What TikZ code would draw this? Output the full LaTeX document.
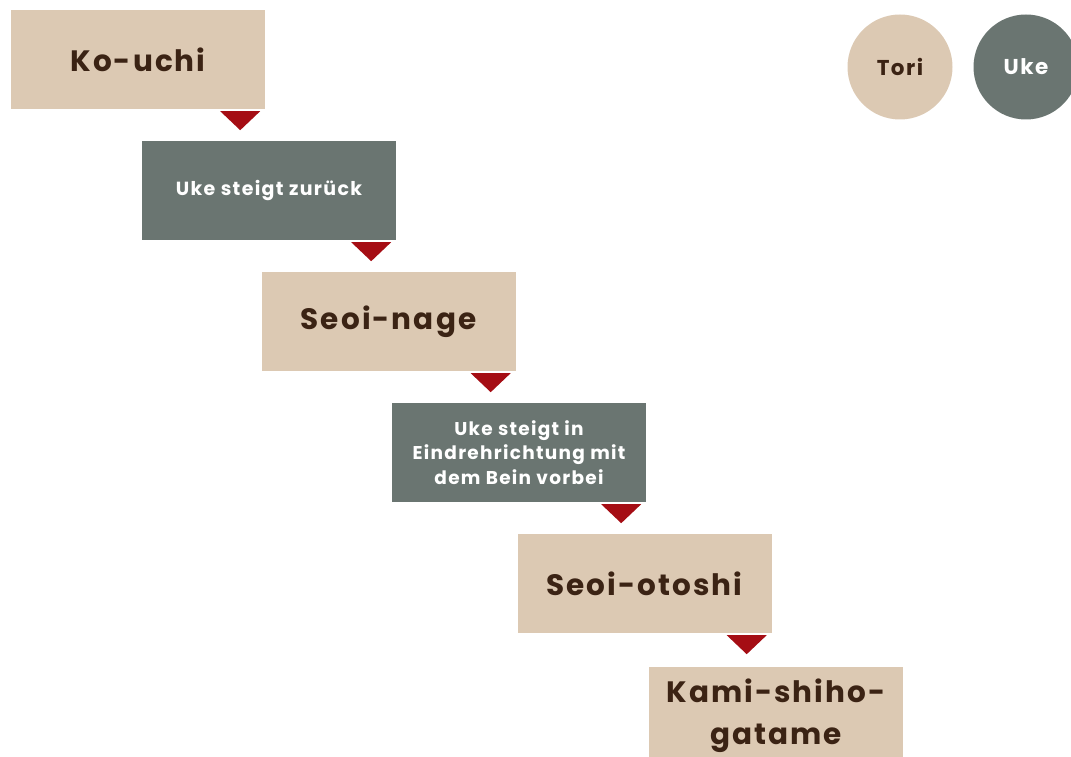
\documentclass[tikz,border=0pt]{standalone}
\usepackage{fontspec}
\setmainfont{Poppins}[LetterSpace=7]
\usetikzlibrary{calc}
\definecolor{tan}{HTML}{DCC9B3}
\definecolor{ink}{HTML}{3B2314}
\definecolor{slate}{HTML}{6A7571}
\definecolor{mark}{HTML}{A50D14}
\begin{document}
\begin{tikzpicture}[x=1pt,y=1pt,
  box/.style={rectangle, minimum width=254pt, minimum height=99pt, inner sep=0pt, align=center, font=\bfseries},
  tori/.style={box, fill=tan, text=ink, font=\bfseries\fontsize{29.5}{42}\selectfont},
  uke/.style={box, fill=slate, text=white, font=\bfseries\fontsize{18.5}{24.5}\selectfont},
  disc/.style={circle, minimum size=105pt, inner sep=0pt, font=\bfseries\fontsize{21.5}{24}\selectfont},
  tri/.style={fill=mark}]
\useasboundingbox (0,0) rectangle (1071,756);
\begin{scope}
\clip (0,0) rectangle (1071,756);
\node[tori] (b1) at (138,696.5) {Ko-uchi};
\node[uke, font=\bfseries\fontsize{19}{24.5}\selectfont] (b2) at (269,565.5) {Uke steigt zurück};
\node[tori] (b3) at (388.5,434.5) {Seoi-nage};
\node[uke] (b4) at (519,303.5) {Uke steigt in\\Eindrehrichtung mit\\dem Bein vorbei};
\node[tori] (b5) at (644.5,172.5) {Seoi-otoshi};
\node[tori] (b6) at (776,40) {Kami-shiho-\\gatame};
\foreach \b in {b1,b2,b3,b4,b5}{
  \fill[tri] ($(\b.south east)+(-45,-2)$) -- ($(\b.south east)+(-5,-2)$) -- ($(\b.south east)+(-25,-21)$) -- cycle;
}
\node[disc, fill=tan, text=ink] (tori) at (900,689) {Tori};
\node[disc, fill=slate, text=white] (uke) at (1026,689) {Uke};
\end{scope}
\end{tikzpicture}
\end{document}
